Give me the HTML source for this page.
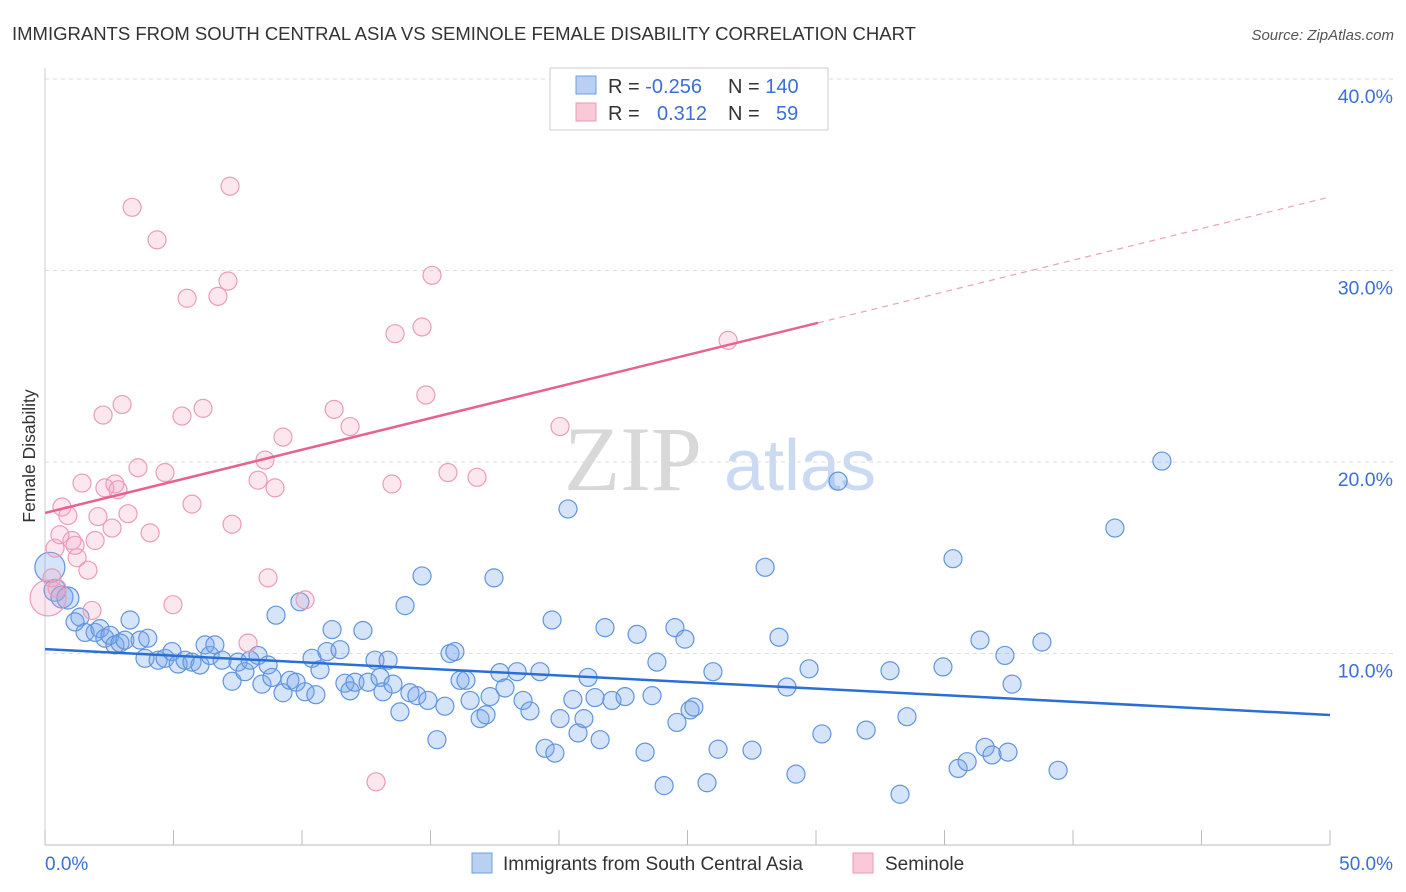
<!DOCTYPE html>
<html><head><meta charset="utf-8">
<style>
body{margin:0;background:#fff;font-family:"Liberation Sans",sans-serif;}
#wrap{position:relative;width:1406px;height:892px;overflow:hidden;}
</style></head>
<body>
<div id="wrap">
<svg id="svg" width="1406" height="892" xmlns="http://www.w3.org/2000/svg">
<text x="12" y="40" font-size="18.5" fill="#333">IMMIGRANTS FROM SOUTH CENTRAL ASIA VS SEMINOLE FEMALE DISABILITY CORRELATION CHART</text>
<text x="1394" y="40" font-size="15" fill="#555" font-style="italic" text-anchor="end">Source: ZipAtlas.com</text>
<text x="35" y="456" font-size="17.5" fill="#333" text-anchor="middle" transform="rotate(-90 35 456)">Female Disability</text>
<g>
<text x="633" y="490" font-size="92" fill="#d8d8d8" font-family="Liberation Serif,serif" text-anchor="middle">ZIP</text>
<text x="800" y="490" font-size="72" fill="#c9daf2" text-anchor="middle">atlas</text>
</g>
<g id="grid"></g>
<g id="axes"></g>
<g id="pts"></g>
<g id="trends"></g>
<g>
<rect x="550" y="68" width="278" height="62" fill="#fff" stroke="#ccc"/>
<rect x="576" y="76" width="20" height="18" fill="#b9d0f3" stroke="#6a9fe0"/>
<rect x="576" y="103" width="20" height="18" fill="#f9c9d8" stroke="#e99ab5"/>
<text x="608" y="93" font-size="20" fill="#333">R = <tspan fill="#3b6fd6">-0.256</tspan></text>
<text x="728" y="93" font-size="20" fill="#333">N = <tspan fill="#3b6fd6">140</tspan></text>
<text x="608" y="120" font-size="20" fill="#333">R = <tspan fill="#3b6fd6" x="657">0.312</tspan></text>
<text x="728" y="120" font-size="20" fill="#333">N = <tspan fill="#3b6fd6" x="776">59</tspan></text>
</g>
<g>
<rect x="472" y="853" width="20" height="20" fill="#b9d0f3" stroke="#6a9fe0"/>
<text x="503" y="870" font-size="19" fill="#333">Immigrants from South Central Asia</text>
<rect x="853" y="853" width="20" height="20" fill="#f9c9d8" stroke="#e99ab5"/>
<text x="885" y="870" font-size="19" fill="#333">Seminole</text>
</g>
</svg>
</div>
<script>
const blueX=[0.19,0.39,0.66,0.89,1.36,1.17,1.56,1.95,2.14,2.33,2.53,2.72,2.92,3.11,3.31,3.7,4.0,3.89,4.4,4.67,4.94,5.18,5.45,5.72,6.03,6.23,6.42,6.61,6.89,7.28,7.51,7.78,7.98,8.29,8.44,8.68,8.83,8.99,9.26,9.53,9.77,9.92,10.12,10.39,10.54,10.7,10.97,11.17,11.48,11.67,11.87,12.06,12.37,12.57,12.84,13.04,13.15,13.35,13.54,13.81,14.01,14.2,14.47,14.67,14.9,15.25,15.56,15.76,15.95,16.15,16.38,16.54,16.93,17.16,17.32,17.47,17.7,17.9,18.37,18.6,18.87,19.26,19.46,19.73,19.84,20.04,20.35,20.54,20.74,20.97,21.13,21.4,21.6,21.79,22.06,22.57,23.04,23.35,23.62,23.81,24.09,24.51,24.59,24.9,25.1,25.25,25.76,25.99,26.19,27.51,28.02,28.56,28.87,29.22,29.73,30.23,30.86,31.95,32.88,33.27,33.54,34.94,35.33,35.53,35.88,36.38,36.58,36.85,37.35,37.47,37.63,38.79,39.42,41.63,43.46];
const blueY=[14.5,13.3,12.95,12.9,11.9,11.65,11.1,11.1,11.3,10.8,10.95,10.45,10.55,10.7,11.75,10.7,10.8,9.75,9.65,9.75,10.1,9.45,9.65,9.55,9.4,10.45,9.9,10.45,9.65,8.55,9.55,9.05,9.65,9.9,8.4,9.4,8.75,12.0,7.95,8.6,8.5,12.7,8.0,9.75,7.85,9.15,10.1,11.25,10.2,8.45,8.05,8.5,11.2,8.5,9.65,8.75,8.0,9.65,8.4,6.95,12.5,7.95,7.8,14.05,7.55,5.5,7.25,10.0,10.1,8.6,8.6,7.55,6.6,6.8,7.75,13.95,9.0,8.2,9.05,7.55,7.0,9.05,5.05,11.75,4.8,6.6,17.55,7.6,5.85,6.6,8.75,7.7,5.5,11.35,7.55,7.75,11.0,4.85,7.8,9.55,3.1,11.35,6.4,10.75,7.05,7.2,3.25,9.05,5.0,4.95,14.5,10.85,8.25,3.7,9.2,5.8,19.0,6.0,9.1,2.65,6.7,9.3,14.95,4.0,4.35,10.7,5.1,4.7,9.9,4.85,8.4,10.6,3.9,16.55,20.05];
const pinkX=[0.12,0.27,0.47,0.66,0.89,1.05,1.25,1.44,1.67,1.83,1.95,2.06,2.26,2.33,2.61,2.72,2.84,3.0,3.23,3.39,3.62,4.09,4.36,4.67,4.98,5.33,5.53,5.72,6.15,6.73,7.12,7.2,7.28,7.9,8.29,8.56,8.68,8.95,9.26,10.12,11.25,11.87,12.88,13.5,13.62,14.67,14.82,15.06,15.68,16.81,20.04,26.58,0.39,0.58,1.17];
const pinkY=[12.9,13.95,13.4,17.65,17.2,15.9,15.0,18.9,14.35,12.25,15.9,17.15,22.45,18.65,16.55,18.85,18.55,23.0,17.3,33.3,19.7,16.3,31.6,19.45,12.55,22.4,28.55,17.8,22.8,28.65,29.45,34.4,16.75,10.55,19.05,20.1,13.95,18.65,21.3,12.8,22.75,21.85,3.3,18.85,26.7,27.05,23.5,29.75,19.45,19.2,21.85,26.35,15.5,16.2,15.65];
const blueTrend=[10.23,6.79];
const pinkTrend=[17.34,33.84];
const pinkSolidEnd=[30.08];
const yTicks=[10,20,30,40];
const yTickLabels=["10.0%","20.0%","30.0%","40.0%"];
const xTicks=[0,5,10,15,20,25,30,35,40,45,50];

const NS="http://www.w3.org/2000/svg";
const X0=45,X1=1330,Y0=845,PPY=19.15;
function sx(v){return X0+(X1-X0)*v/50;}
function sy(v){return Y0-v*PPY;}
function mk(tag,attrs,parent){const e=document.createElementNS(NS,tag);for(const k in attrs)e.setAttribute(k,attrs[k]);parent.appendChild(e);return e;}
const grid=document.getElementById('grid'),axes=document.getElementById('axes'),pts=document.getElementById('pts'),tr=document.getElementById('trends');
yTicks.forEach((t,i)=>{
 const l=mk('line',{x1:X0,x2:1395,y1:sy(t),y2:sy(t),stroke:'#ddd','stroke-dasharray':'4,4'},grid);
 
 
 const tx=mk('text',{x:1393,y:sy(t)+24,'font-size':19.5,fill:'#3b6fd6','text-anchor':'end'},axes);
 tx.textContent=yTickLabels[i];
 
 
});
const ax=mk('line',{x1:X0,x2:X1,y1:Y0,y2:Y0,stroke:'#bbb'},axes);


const ay=mk('line',{x1:X0,x2:X0,y1:68,y2:Y0,stroke:'#ccc'},axes);


xTicks.forEach(t=>{
 const k=mk('line',{x1:sx(t),x2:sx(t),y1:830,y2:Y0,stroke:'#bbb'},axes);
 
 
});
const xl0=mk('text',{x:45,y:870,'font-size':19,fill:'#3b6fd6'},axes);xl0.textContent='0.0%';


const xl1=mk('text',{x:1393,y:870,'font-size':19,fill:'#3b6fd6','text-anchor':'end'},axes);xl1.textContent='50.0%';


blueX.forEach((x,i)=>{
 const r=(i===0)?15:(i<4?11:9);
 const c=mk('circle',{cx:sx(x),cy:sy(blueY[i]),r:r,fill:'rgba(120,165,235,0.3)',stroke:'#5f95de','stroke-width':1.2},pts);
 
 
});
pinkX.forEach((x,i)=>{
 const r=(i===0)?18:9;
 const c=mk('circle',{cx:sx(x),cy:sy(pinkY[i]),r:r,fill:'rgba(245,160,190,0.25)',stroke:'#eb9cb8','stroke-width':1.2},pts);
 
 
});
const bt=mk('line',{x1:sx(0),y1:sy(blueTrend[0]),x2:sx(50),y2:sy(blueTrend[1]),stroke:'#2a6fd6','stroke-width':2.5},tr);


const pm=(pinkTrend[1]-pinkTrend[0])/50;
const pe=pinkSolidEnd[0];
const pt1=mk('line',{x1:sx(0),y1:sy(pinkTrend[0]),x2:sx(pe),y2:sy(pinkTrend[0]+pm*pe),stroke:'#e8628f','stroke-width':2.5},tr);


const pt2=mk('line',{x1:sx(pe),y1:sy(pinkTrend[0]+pm*pe),x2:sx(50),y2:sy(pinkTrend[1]),stroke:'#eaa0b8','stroke-width':1.2,'stroke-dasharray':'6,5'},tr);


</script>
</body></html>
